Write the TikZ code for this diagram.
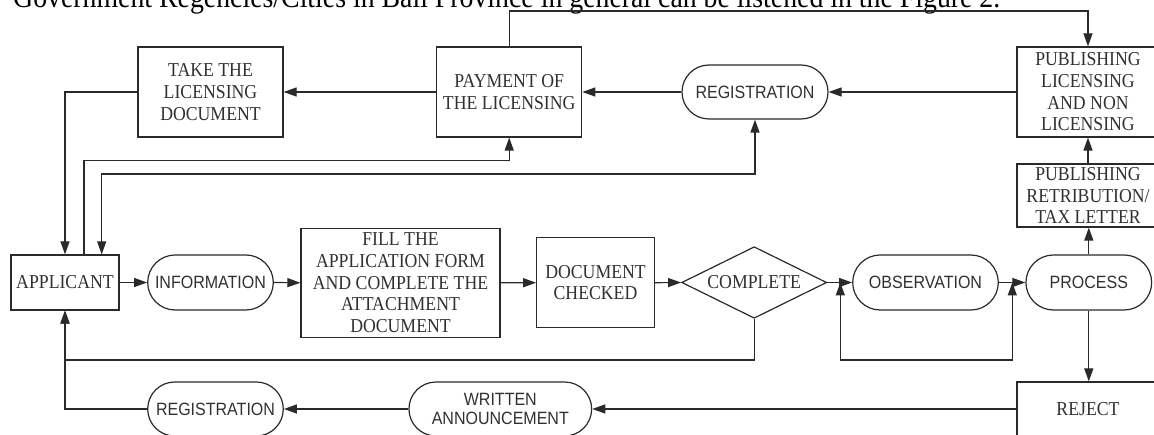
\documentclass[tikz,border=0pt]{standalone}
\usepackage{fontspec}
\setmainfont{Liberation Serif}[FakeStretch=0.9]
\newfontfamily\sansf{Liberation Sans}[FakeStretch=0.9]
\usetikzlibrary{arrows.meta,shapes.misc,shapes.geometric}
\definecolor{ln}{HTML}{2A2A2A}
\definecolor{tx}{HTML}{303030}
\begin{document}
\begin{tikzpicture}[x=1pt,y=-1pt,
  serifsz/.style={font=\fontsize{19.7pt}{21.7pt}\selectfont},
  box/.style={draw=ln, line width=1.2pt, rectangle, inner sep=0pt, align=center, text=tx, serifsz},
  term/.style={draw=ln, line width=1.2pt, rounded rectangle, inner sep=0pt, align=center, text=tx,
    font=\sansf\fontsize{17.8pt}{19.4pt}\selectfont},
  dia/.style={draw=ln, line width=1.2pt, diamond, aspect=2, inner sep=0pt, text=tx, serifsz},
  conn/.style={draw=ln, line width=1.2pt},
  arr/.style={conn, -{Triangle[length=13pt,width=9pt]}},
  barr/.style={conn, {Triangle[length=13pt,width=9pt]}-{Triangle[length=13pt,width=9pt]}}
]
\useasboundingbox (0,0) rectangle (1154,435);
\clip (0,0) rectangle (1154,435);

% caption line of the page above the figure
\node[anchor=base west, inner sep=0pt, font=\fontsize{30.9pt}{32pt}\selectfont] (cap) at (13,8)
  {Government Regencies/Cities in Bali Province in general can be listened in the Figure 2.};

% middle row
\node[box, minimum width=108pt, minimum height=55pt] (app) at (65,282.5) {APPLICANT};
\node[term, minimum width=125.6pt, minimum height=55pt] (info) at (210.5,282.5) {INFORMATION};
\node[box, minimum width=199pt, minimum height=109pt] (fill) at (400.5,282.8)
  {FILL THE\\APPLICATION FORM\\AND COMPLETE THE\\ATTACHMENT\\DOCUMENT};
\node[box, minimum width=117.6pt, minimum height=90pt] (doc) at (595.5,282.7) {DOCUMENT\\CHECKED};
\node[dia, minimum width=145pt, minimum height=71.6pt] (comp) at (754.2,282.5) {COMPLETE};
\node[term, minimum width=145.6pt, minimum height=55pt] (obs) at (925.5,282.5) {OBSERVATION};
\node[term, minimum width=125.7pt, minimum height=55pt] (proc) at (1088.8,282.5) {PROCESS};

% right column
\node[box, minimum width=142pt, minimum height=63pt] (pubr) at (1088,195.5)
  {PUBLISHING\\RETRIBUTION/\\TAX LETTER};
\node[box, minimum width=142pt, minimum height=90pt] (publ) at (1088,92)
  {PUBLISHING\\LICENSING\\AND NON\\LICENSING};

% top row
\node[term, minimum width=146pt, minimum height=54pt] (regt) at (755,92) {REGISTRATION};
\node[box, minimum width=145pt, minimum height=90pt] (pay) at (509.2,92) {PAYMENT OF\\THE LICENSING};
\node[box, minimum width=145pt, minimum height=90pt] (take) at (210.5,92) {TAKE THE\\LICENSING\\DOCUMENT};

% bottom row
\node[box, minimum width=142pt, minimum height=54pt] (rej) at (1088,409) {REJECT};
\node[term, minimum width=182.7pt, minimum height=54pt] (writ) at (500.3,409) {WRITTEN\\ANNOUNCEMENT};
\node[term, minimum width=135.6pt, minimum height=54pt] (regb) at (215.5,409) {REGISTRATION};

% helper coordinates
\coordinate (topy) at (0,11);
\coordinate (y14) at (0,160.7);
\coordinate (y15) at (0,174);
\coordinate (y16) at (0,360);
\coordinate (l1) at (840.3,282.5);
\coordinate (l2) at (1012.3,282.5);

% connectors
\draw[arr] (app.east) -- (info.west);
\draw[arr] (info.east) -- (fill.west);
\draw[arr] (fill.east) -- (doc.west);
\draw[arr] (doc.east) -- (comp.west);
\draw[arr] (comp.east) -- (obs.west);
\draw[arr] (obs.east) -- (proc.west);
\draw[arr] (proc.north) -- (proc.north |- pubr.south);
\draw[arr] (pubr.north) -- (publ.south);
\draw[arr] (publ.west) -- (regt.east);
\draw[arr] (regt.west) -- (pay.east);
\draw[arr] (pay.west) -- (take.east);
\draw[arr] (take.west) -| (app.north);
\draw[arr] (pay.north) -- (pay.north |- topy) -| (publ.north);
\draw[arr] ([xshift=19pt]app.north) -- ([xshift=19pt]app.north |- y14) -| (pay.south);
\draw[barr] ([xshift=36.7pt]app.north) -- ([xshift=36.7pt]app.north |- y15) -| (regt.south);
\draw[arr] (comp.south) -- (comp.south |- y16) -| (app.south);
\draw[barr] (l1) -- (l1 |- y16) -| (l2);
\draw[arr] (proc.south) -- (proc.south |- rej.north);
\draw[arr] (rej.west) -- (writ.east);
\draw[arr] (writ.west) -- (regb.east);
\draw[arr] (regb.west) -| (app.south);
\end{tikzpicture}
\end{document}
